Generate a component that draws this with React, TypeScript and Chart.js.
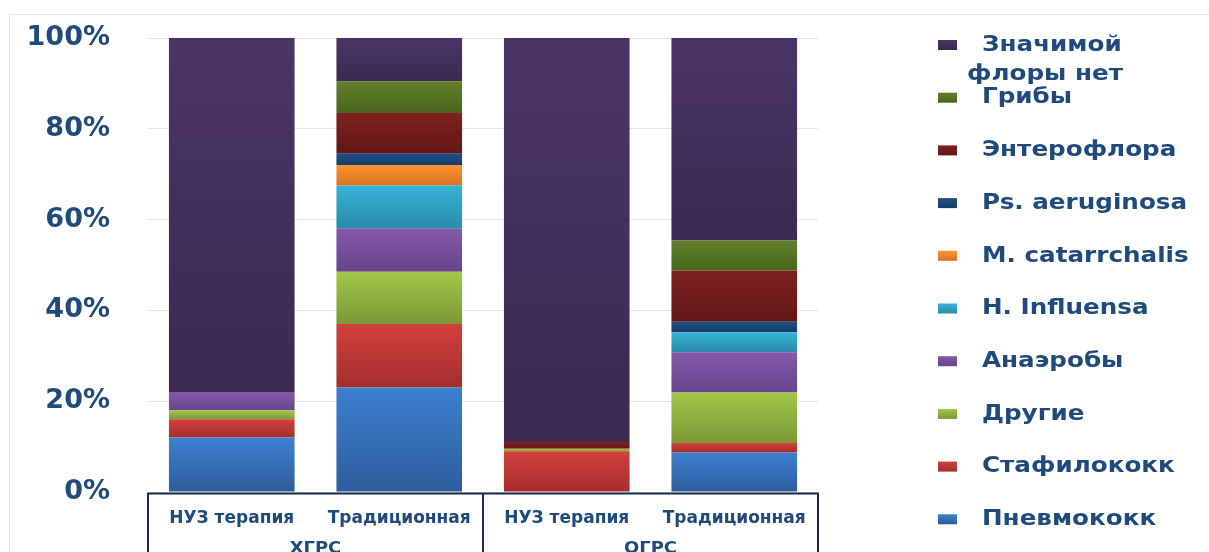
import React, { useEffect, useRef } from "react";
import { Chart, registerables } from "chart.js";

Chart.register(...registerables);

const categories = ["НУЗ терапия", "Традиционная", "НУЗ терапия", "Традиционная"];
const groups = ["ХГРС", "ОГРС"];
const yTicks = [0, 20, 40, 60, 80, 100];

const seriesNames = [
  "Пневмококк",
  "Стафилококк",
  "Другие",
  "Анаэробы",
  "H. Influensa",
  "M. catarrchalis",
  "Ps. aeruginosa",
  "Энтерофлора",
  "Грибы",
  "Значимой\nфлоры нет",
];

const pneumococcus = [12, 23, 0, 8.7];
const staphylococcus = [4, 14, 9, 2.1];
const others = [2, 11.5, 0.5, 11.1];
const anaerobes = [4, 9.5, 0, 8.9];
const hInfluensa = [0, 9.5, 0, 4.4];
const mCatarrhalis = [0, 4.5, 0, 0];
const psAeruginosa = [0, 2.5, 0, 2.3];
const enteroflora = [0, 9, 1.5, 11.3];
const fungi = [0, 7, 0, 6.6];
const noFlora = [78, 9.5, 89, 44.6];

const seriesValues = [
  pneumococcus,
  staphylococcus,
  others,
  anaerobes,
  hInfluensa,
  mCatarrhalis,
  psAeruginosa,
  enteroflora,
  fungi,
  noFlora,
];

const colorsTop = [
  "#3c80d0",
  "#d2403d",
  "#a2c748",
  "#8459ab",
  "#36b4da",
  "#fb932f",
  "#1f5088",
  "#7f2120",
  "#60802a",
  "#4b3567",
];
const colorsBottom = [
  "#2c5d9c",
  "#a32e2c",
  "#7a9935",
  "#66448a",
  "#2a8aa6",
  "#d87420",
  "#173c67",
  "#611616",
  "#4a661d",
  "#3a2950",
];

const TEXT = "#1F4A7C";
const FONT = "'DejaVu Sans', Verdana, sans-serif";
const STRETCH = 1.12;

function makeFill(ds: number) {
  return (ctx: any) => {
    const chart = ctx.chart;
    const y = chart.scales && chart.scales.y;
    if (!y || ctx.type !== "data") return colorsTop[ds];
    const i = ctx.dataIndex;
    let start = 0;
    for (let d = 0; d < ds; d++) start += seriesValues[d][i];
    const end = start + seriesValues[ds][i];
    const y0 = y.getPixelForValue(end);
    const y1 = y.getPixelForValue(start);
    if (!isFinite(y0) || !isFinite(y1) || Math.abs(y1 - y0) < 0.5) return colorsTop[ds];
    const g = chart.ctx.createLinearGradient(0, y0, 0, y1);
    g.addColorStop(0, colorsTop[ds]);
    g.addColorStop(1, colorsBottom[ds]);
    return g;
  };
}

function stretchedText(c: CanvasRenderingContext2D, text: string, x: number, y: number, align: "left" | "center") {
  c.save();
  c.translate(x, y);
  c.scale(STRETCH, 1);
  c.textAlign = align;
  c.fillText(text, 0, 0);
  c.restore();
}

const decorPlugin = {
  id: "decor",
  beforeDraw(chart: any) {
    const c = chart.ctx;
    c.save();
    c.strokeStyle = "#dce6f1";
    c.lineWidth = 1;
    c.beginPath();
    c.moveTo(9.5, chart.height);
    c.lineTo(9.5, 14.5);
    c.lineTo(chart.width, 14.5);
    c.stroke();
    c.restore();
  },
  afterDraw(chart: any) {
    const c = chart.ctx;
    const { left, right, bottom } = chart.chartArea;
    const mid = (left + right) / 2;
    c.save();
    // category group box
    c.strokeStyle = "#1b2a4c";
    c.lineWidth = 2;
    c.beginPath();
    c.moveTo(left, chart.height);
    c.lineTo(left, bottom + 1.5);
    c.lineTo(right, bottom + 1.5);
    c.lineTo(right, chart.height);
    c.moveTo(mid, bottom + 1.5);
    c.lineTo(mid, chart.height);
    c.stroke();
    c.fillStyle = TEXT;
    c.font = `bold 16px ${FONT}`;
    c.textBaseline = "middle";
    groups.forEach((g, k) => {
      const x0 = k === 0 ? left : mid;
      const x1 = k === 0 ? mid : right;
      stretchedText(c, g, (x0 + x1) / 2, bottom + 57, "center");
    });

    // legend
    const n = chart.data.datasets.length;
    const lx = 938;
    const tx = 982;
    const top = 45;
    const step = 52.7;
    c.font = `bold 22px ${FONT}`;
    for (let k = 0; k < n; k++) {
      const d = n - 1 - k;
      const ds = chart.data.datasets[d];
      const cy = top + k * step;
      const g = c.createLinearGradient(0, cy - 5, 0, cy + 5);
      g.addColorStop(0, colorsTop[d]);
      g.addColorStop(1, colorsBottom[d]);
      c.fillStyle = g;
      c.fillRect(lx, cy - 5, 19, 10);
      c.fillStyle = TEXT;
      const lines = String(ds.label).split("\n");
      lines.forEach((ln, j) => {
        stretchedText(c, ln, j === 0 ? tx : tx - 15, cy + j * 29, "left");
      });
    }
    c.restore();
  },
};

export default function App() {
  const ref = useRef<HTMLCanvasElement | null>(null);
  useEffect(() => {
    if (!ref.current) return;
    const chart = new Chart(ref.current, {
      type: "bar",
      data: {
        labels: categories,
        datasets: seriesValues.map((vals, d) => ({
          label: seriesNames[d],
          data: vals,
          backgroundColor: makeFill(d),
          borderWidth: 0,
          barPercentage: 0.75,
          categoryPercentage: 1,
        })),
      },
      options: {
        responsive: false,
        animation: false,
        maintainAspectRatio: false,
        layout: { padding: { top: 38, right: 391, left: 0, bottom: 0 } },
        plugins: {
          legend: { display: false },
          tooltip: { enabled: false },
        },
        scales: {
          x: {
            stacked: true,
            grid: { display: false },
            border: { display: false },
            ticks: {
              color: TEXT,
              font: { family: FONT, size: 17, weight: "bold" },
              padding: 8,
              maxRotation: 0,
              autoSkip: false,
            },
            afterFit(scale: any) {
              scale.height = 60;
              scale.paddingLeft = 0;
              scale.paddingRight = 0;
            },
          },
          y: {
            stacked: true,
            min: 0,
            max: 100,
            afterBuildTicks(scale: any) {
              scale.ticks = yTicks.map((v) => ({ value: v }));
            },
            grid: { color: "#dfe6ef", drawTicks: false },
            border: { display: false },
            ticks: {
              color: TEXT,
              font: { family: FONT, size: 27, weight: "bold" },
              padding: 38,
              callback: (v: any) => `${v}%`,
            },
            afterFit(scale: any) {
              scale.width = 148;
              scale.paddingTop = 0;
              scale.paddingBottom = 0;
            },
          },
        },
      } as any,
      plugins: [decorPlugin],
    });
    return () => chart.destroy();
  }, []);
  return (
    <div style={{ position: "fixed", left: 0, top: 0, width: 1209, height: 552, background: "#fff" }}>
      <canvas ref={ref} width={1209} height={552} style={{ display: "block", width: 1209, height: 552 }} />
    </div>
  );
}
